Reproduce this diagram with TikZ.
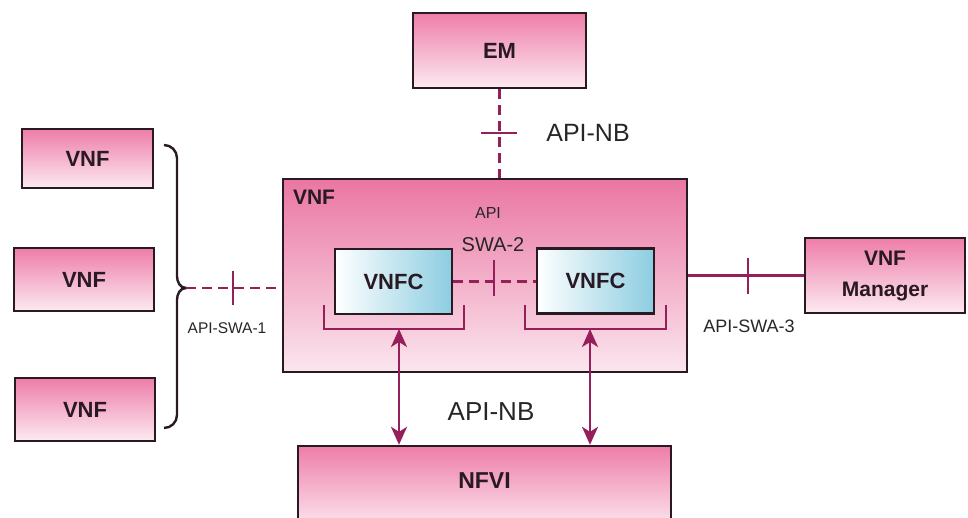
\documentclass[tikz,border=0pt]{standalone}
\usepackage{fontspec}
\setmainfont{Liberation Sans}
\usetikzlibrary{arrows.meta}
\definecolor{pinktop}{RGB}{238,125,168}
\definecolor{pinkbot}{RGB}{252,234,241}
\definecolor{maintop}{RGB}{234,118,162}
\definecolor{mainbot}{RGB}{251,230,238}
\definecolor{cyanr}{RGB}{140,205,225}
\definecolor{conn}{RGB}{150,30,90}
\definecolor{txt}{RGB}{40,25,35}
\newcommand{\fs}[1]{\fontsize{#1}{#1}\selectfont}
\tikzset{
  pinkbox/.style={draw=txt, line width=2.4pt, top color=pinktop, bottom color=pinkbot,
    minimum width=#1, inner sep=0pt, text=txt, font=\bfseries\fs{22}, align=center},
  vnfcbox/.style={draw=txt, line width=2.4pt, left color=white, right color=cyanr,
    minimum width=117pt, minimum height=65pt, inner sep=0pt, text=txt, font=\bfseries\fs{22}},
  dashline/.style={conn, line width=2.6pt, dash pattern=on 10pt off 6pt},
  solidline/.style={conn, line width=2.4pt},
  tick/.style={conn, line width=2.6pt},
  lbl/.style={text=black!85, inner sep=0pt},
  arr/.style={conn, line width=2.4pt, {Stealth[length=18pt,width=16pt,inset=5pt]}-{Stealth[length=18pt,width=16pt,inset=5pt]}}
}
\begin{document}
\begin{tikzpicture}[x=1pt,y=-1pt]
\useasboundingbox (0,0) rectangle (968,517);
\clip (0,0) rectangle (968,517);
% boxes
\node[pinkbox=173pt, minimum height=75pt] (em) at (499.5,50.5) {EM};
\node[pinkbox=131pt, minimum height=59pt] (vnf1) at (87.5,158.5) {VNF};
\node[pinkbox=140pt, minimum height=63pt] (vnf2) at (84,279.5) {VNF};
\node[pinkbox=140pt, minimum height=63pt] (vnf3) at (85,409.5) {VNF};
\node[draw=txt, line width=2.4pt, top color=maintop, bottom color=mainbot,
  minimum width=404pt, minimum height=193pt, inner sep=0pt] (main) at (485,275.5) {};
\node[pinkbox=373pt, minimum height=84pt] (nfvi) at (484.5,488) {};
\node[text=txt, font=\bfseries\fs{23}, inner sep=0pt] (nfvit) at (484.5,481) {NFVI};
\node[pinkbox=160pt, minimum height=75pt, font=\bfseries\fontsize{21}{31}\selectfont] (mgr) at (885,275.5) {VNF\\Manager};
\node[vnfcbox] (vnfc1) at (393.5,281.5) {VNFC};
\node[vnfcbox] (vnfc2) at (595.5,281) {VNFC};
% labels
\node[text=txt, font=\bfseries\fs{21}, inner sep=0pt] (mainlbl) at (314,197) {VNF};
\node[lbl, font=\fs{16}] (apil) at (488,213) {API};
\node[lbl, font=\fs{20}] (swa2) at (493,245) {SWA-2};
\node[lbl, font=\fs{25}] (apinb1) at (588,133) {API-NB};
\node[lbl, font=\fs{26}] (apinb2) at (491,412) {API-NB};
\node[lbl, font=\fs{15.5}] (swa1) at (227,328) {API-SWA-1};
\node[lbl, font=\fs{18}] (swa3) at (749,326) {API-SWA-3};
% EM connector
\draw[dashline] (em.south) -- (em.south |- main.north);
\coordinate (t1) at (499,133);
\draw[tick] ([xshift=-18pt]t1) -- ([xshift=18pt]t1);
% brace
\coordinate (bp) at (186,288);
\draw[txt, line width=2.4pt] (164,145) to[out=0,in=90] (177,158) -- (177,276)
  to[out=-90,in=180] (bp) to[out=180,in=90] (177,300) -- (177,415) to[out=-90,in=0] (164,428);
\draw[dashline] (bp) -- (main.west |- bp);
\coordinate (t2) at (233,288);
\draw[tick] ([yshift=-17pt]t2) -- ([yshift=17pt]t2);
% VNFC connector
\draw[dashline] (vnfc1.east) -- (vnfc2.west |- vnfc1.east);
\coordinate (t3) at (494,281);
\draw[tick] ([yshift=-15pt]t3) -- ([yshift=21pt]t3);
% manager connector
\draw[solidline] (main.east |- mgr.west) -- (mgr.west);
\coordinate (t4) at (748,275.5);
\draw[tick] ([yshift=-18pt]t4) -- ([yshift=18pt]t4);
% brackets
\draw[solidline] (324,305) -- (324,329) -- (464,329) -- (464,305);
\draw[solidline] (525,305) -- (525,329) -- (666,329) -- (666,305);
\coordinate (b1) at (399,329);
\coordinate (b2) at (590,329);
\draw[arr] (b1) -- (b1 |- nfvi.north);
\draw[arr] (b2) -- (b2 |- nfvi.north);
\end{tikzpicture}
\end{document}
